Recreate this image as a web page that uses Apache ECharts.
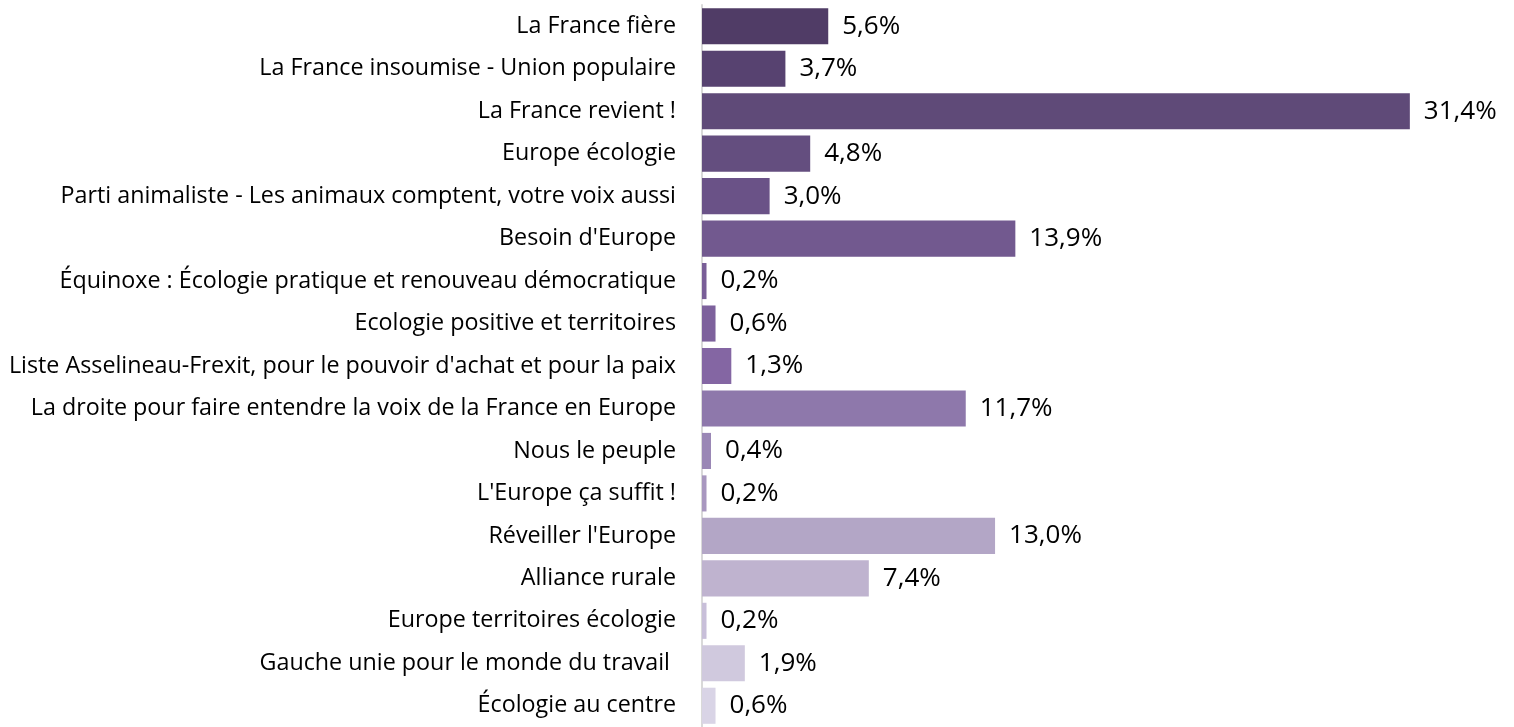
<!DOCTYPE html>
<html>
<head>
<meta charset="utf-8">
<script src="https://cdn.jsdelivr.net/npm/echarts@6/dist/echarts.min.js"></script>
<style>
html,body{margin:0;padding:0;background:#fff;}
#chart{width:1514px;height:727px;}
</style>
</head>
<body>
<div id="chart"></div>
<script>
const categories = [
  "La France fière",
  "La France insoumise - Union populaire",
  "La France revient !",
  "Europe écologie",
  "Parti animaliste - Les animaux comptent, votre voix aussi",
  "Besoin d'Europe",
  "Équinoxe : Écologie pratique et renouveau démocratique",
  "Ecologie positive et territoires",
  "Liste Asselineau-Frexit, pour le pouvoir d'achat et pour la paix",
  "La droite pour faire entendre la voix de la France en Europe",
  "Nous le peuple",
  "L'Europe ça suffit !",
  "Réveiller l'Europe",
  "Alliance rurale",
  "Europe territoires écologie",
  "Gauche unie pour le monde du travail ",
  "Écologie au centre"
];
const values = [5.6, 3.7, 31.4, 4.8, 3.0, 13.9, 0.2, 0.6, 1.3, 11.7, 0.4, 0.2, 13.0, 7.4, 0.2, 1.9, 0.6];
const barColors = [
  "#503c66", "#574270", "#5f4a78", "#644e7f", "#6a5287", "#72598f",
  "#795e97", "#7d619c", "#8466a3", "#8e78ab", "#9a87b5", "#a897bf",
  "#b3a6c6", "#bfb3cf", "#c8bfd9", "#d0c9de", "#d9d4e6"
];

const chart = echarts.init(document.getElementById('chart'));
chart.setOption({
  animation: false,
  backgroundColor: '#fff',
  grid: { left: 702, right: 23, top: 5, height: 728 },
  xAxis: {
    type: 'value', min: 0, max: 35,
    show: false
  },
  yAxis: {
    type: 'category',
    data: categories,
    inverse: true,
    axisLine: { show: true, lineStyle: { color: '#d9d9d9', width: 2 } },
    axisTick: { show: false },
    axisLabel: {
      color: '#000', fontFamily: 'Open Sans', fontSize: 23.3, margin: 26,
      padding: [4, 0, 0, 0]
    }
  },
  series: [{
    type: 'bar',
    barCategoryGap: '15%',
    data: values.map((v, i) => ({ value: v, itemStyle: { color: barColors[i] } })),
    label: {
      show: true, position: 'right', distance: 14,
      color: '#000', fontFamily: 'Open Sans', fontSize: 26,
      padding: [4, 0, 0, 0],
      formatter: p => p.value.toFixed(1).replace('.', ',') + '%'
    }
  }]
});
</script>
</body>
</html>
